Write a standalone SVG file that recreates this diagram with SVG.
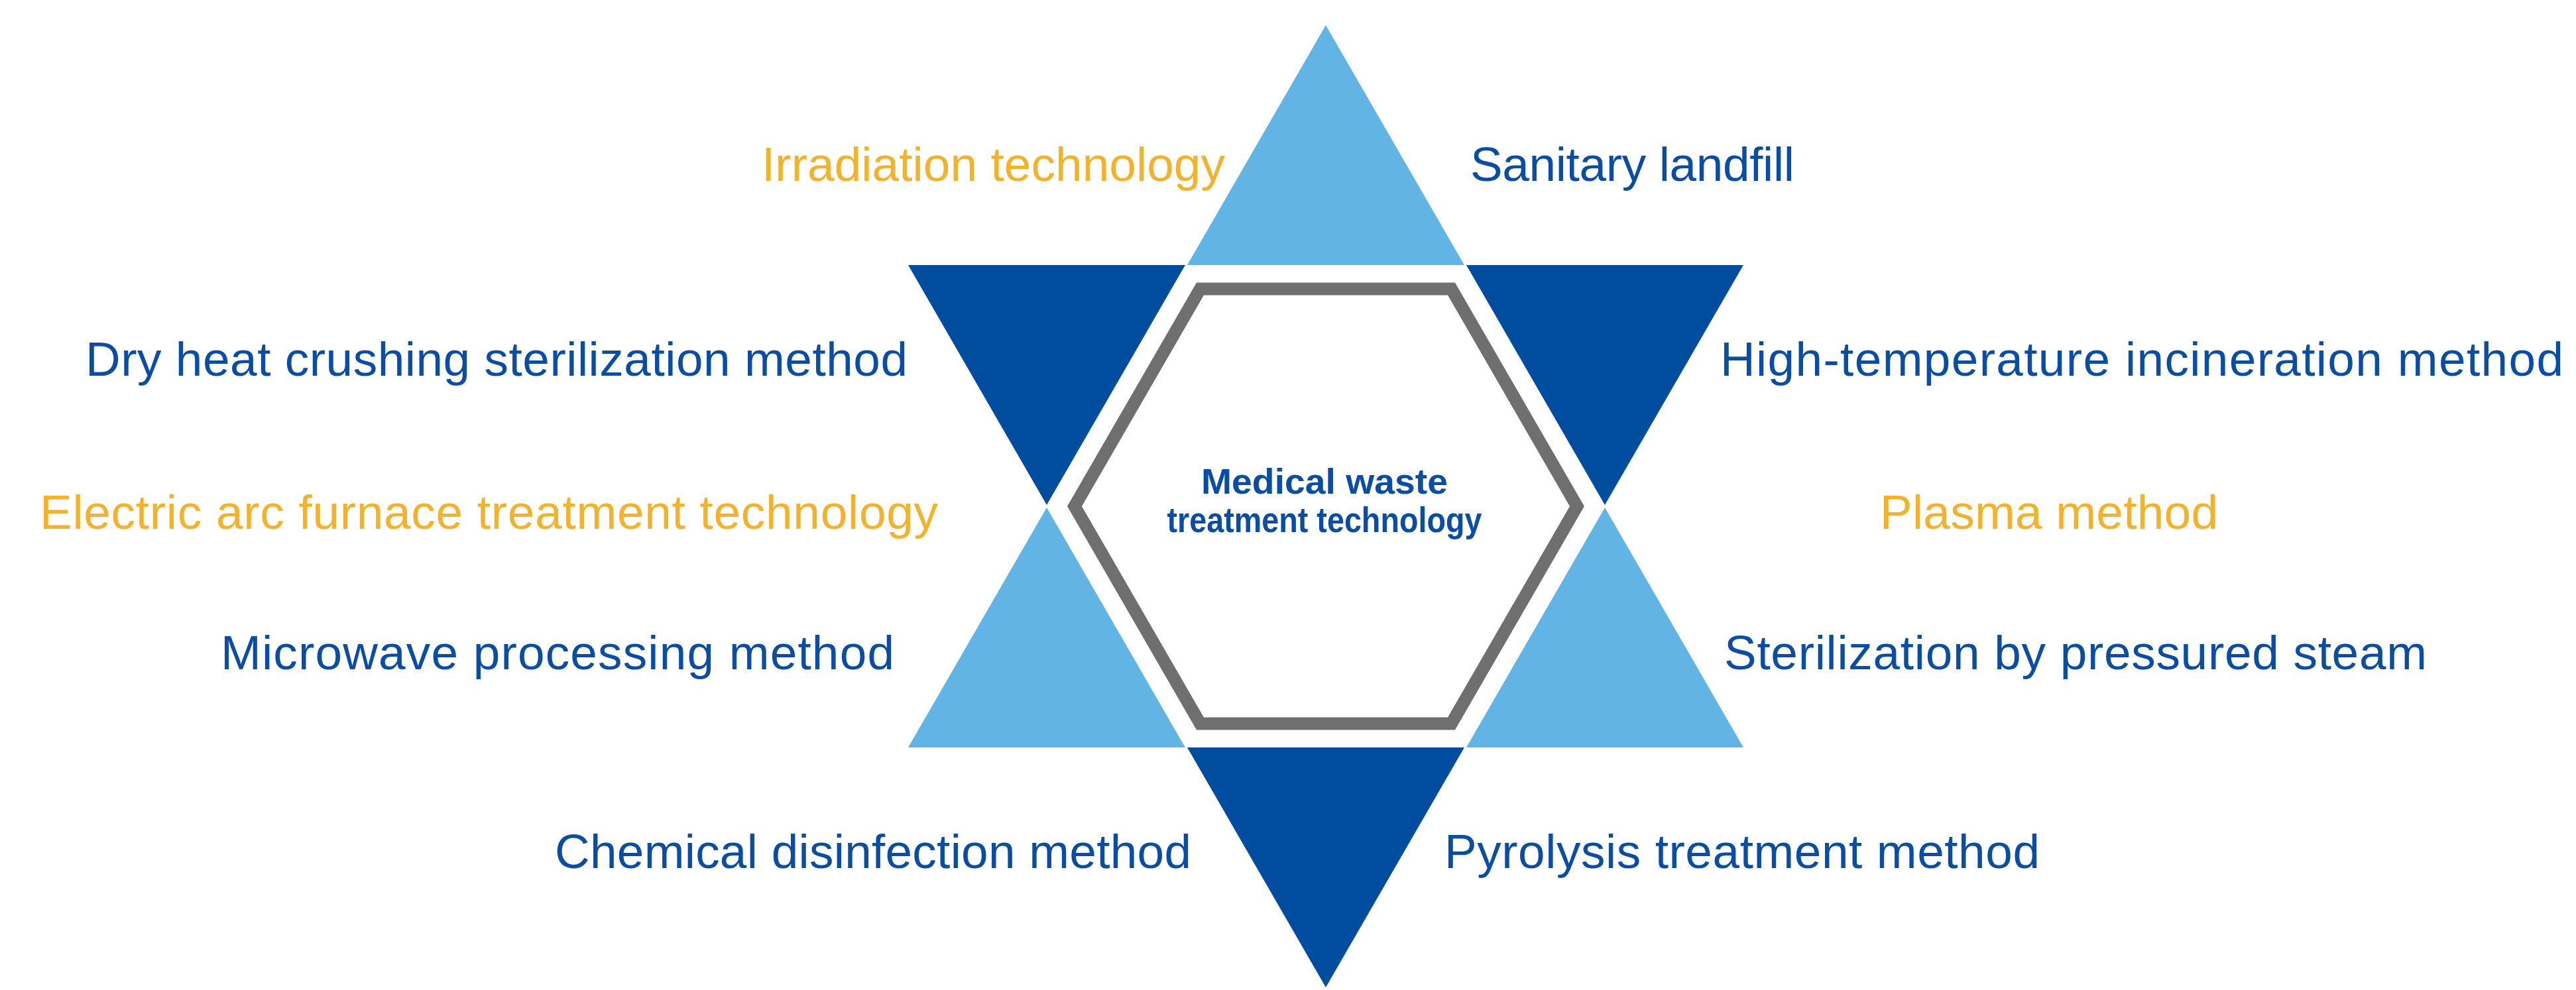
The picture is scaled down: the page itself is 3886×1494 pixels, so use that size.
<svg xmlns="http://www.w3.org/2000/svg" width="3886" height="1494" viewBox="0 0 3886 1494">
<style>
.light{fill:#62B4E4}
.dark{fill:#004DA0}
.lbl{font-family:"Liberation Sans",Arial,sans-serif;font-size:73px}
.blue{fill:#0B4DA2}
.orange{fill:#F2B22E}
.center{font-family:"Liberation Sans",Arial,sans-serif;font-size:53px;font-weight:bold;fill:#0B4DA2;text-anchor:middle}
</style>
<rect width="3886" height="1494" fill="#FFFFFF"/>
<g id="star">
<polygon id="tip-top" class="light" points="2000,38 1791,400 2209,400"/>
<polygon id="tip-upper-left" class="dark" points="1370,400 1788,400 1579,762"/>
<polygon id="tip-upper-right" class="dark" points="2212,400 2630,400 2421,762"/>
<polygon id="tip-lower-left" class="light" points="1579,766 1370,1128 1788,1128"/>
<polygon id="tip-lower-right" class="light" points="2421,766 2630,1128 2212,1128"/>
<polygon id="tip-bottom" class="dark" points="1791,1128 2209,1128 2000,1490"/>
</g>
<g id="center-node">
<polygon points="1621,764 1810.5,436 2189.5,436 2379,764 2189.5,1092 1810.5,1092" fill="#FFFFFF" stroke="#6F6F6F" stroke-width="19" stroke-linejoin="miter"/>
<text class="center" x="1998" y="745" textLength="372" lengthAdjust="spacingAndGlyphs">Medical waste</text>
<text class="center" x="1998" y="803" textLength="475" lengthAdjust="spacingAndGlyphs">treatment technology</text>
</g>
<g id="label-irradiation"><text class="lbl orange" x="1149" y="273" textLength="699" lengthAdjust="spacing">Irradiation technology</text></g>
<g id="label-sanitary"><text class="lbl blue" x="2218" y="273" textLength="489" lengthAdjust="spacing">Sanitary landfill</text></g>
<g id="label-dryheat"><text class="lbl blue" x="129" y="567" textLength="1240" lengthAdjust="spacing">Dry heat crushing sterilization method</text></g>
<g id="label-hightemp"><text class="lbl blue" x="2595" y="567" textLength="1272" lengthAdjust="spacing">High-temperature incineration method</text></g>
<g id="label-electric"><text class="lbl orange" x="60" y="798" textLength="1355" lengthAdjust="spacing">Electric arc furnace treatment technology</text></g>
<g id="label-plasma"><text class="lbl orange" x="2836" y="798" textLength="510" lengthAdjust="spacing">Plasma method</text></g>
<g id="label-microwave"><text class="lbl blue" x="333" y="1010" textLength="1016" lengthAdjust="spacing">Microwave processing method</text></g>
<g id="label-steam"><text class="lbl blue" x="2601" y="1010" textLength="1060" lengthAdjust="spacing">Sterilization by pressured steam</text></g>
<g id="label-chemical"><text class="lbl blue" x="837" y="1310" textLength="960" lengthAdjust="spacing">Chemical disinfection method</text></g>
<g id="label-pyrolysis"><text class="lbl blue" x="2179" y="1310" textLength="898" lengthAdjust="spacing">Pyrolysis treatment method</text></g>
</svg>
